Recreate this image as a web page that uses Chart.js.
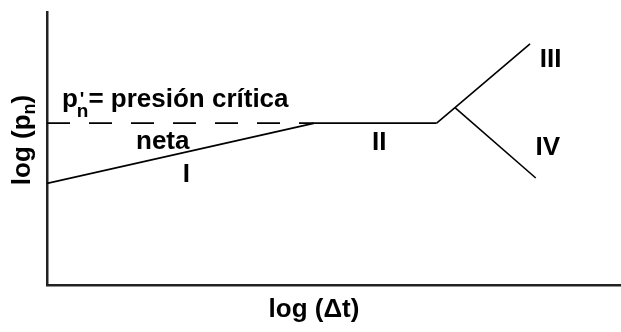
<!DOCTYPE html>
<html>
<head>
<meta charset="utf-8">
<script src="https://cdn.jsdelivr.net/npm/chart.js@4/dist/chart.umd.min.js"></script>
<style>
  html, body { margin: 0; padding: 0; background: #fff; }
  canvas { display: block; }
</style>
</head>
<body>
<canvas id="grafico" width="621" height="332"></canvas>
<script>
// tramos de la curva log(pn) vs log(Δt), en unidades logarítmicas arbitrarias
const tramoI = [[0, 3.72], [4.67, 5.93]];
const tramoII = [[4.67, 5.93], [6.8, 5.93]];
const tramoIII = [[6.8, 5.93], [7.12, 6.5], [8.43, 8.83]];
const tramoIV = [[7.12, 6.5], [8.53, 3.92]];
const presionCritica = [[0, 5.93], [4.67, 5.93]];

// rótulos de cada tramo (centro del texto en unidades de los ejes)
const rotulos = ['I', 'II', 'III', 'IV'];
const rotulosX = [2.43, 5.8, 8.79, 8.74];
const rotulosY = [4.05, 5.22, 8.24, 5.03];

const FUENTE = '"Liberation Sans", Arial, sans-serif';

function puntos(arr) {
    return arr.map(p => ({ x: p[0], y: p[1] }));
}

function serie(arr, dash) {
    return {
        data: puntos(arr),
        borderColor: '#000',
        borderWidth: 1.6,
        borderDash: dash || [],
        pointRadius: 0,
        tension: 0,
        fill: false
    };
}

// textos sobre el gráfico: rótulos, p'n, títulos de los ejes
const textos = {
    id: 'textos',
    afterDatasetsDraw(chart) {
        const ctx = chart.ctx;
        const sx = chart.scales.x, sy = chart.scales.y;
        ctx.save();
        ctx.fillStyle = '#000';

        // I, II, III, IV
        ctx.font = 'bold 26px ' + FUENTE;
        ctx.textAlign = 'center';
        ctx.textBaseline = 'middle';
        rotulos.forEach((t, i) => {
            ctx.fillText(t, sx.getPixelForValue(rotulosX[i]), sy.getPixelForValue(rotulosY[i]));
        });

        // p'n = presión crítica neta
        ctx.textAlign = 'left';
        ctx.textBaseline = 'alphabetic';
        let x = sx.getPixelForValue(0.26);
        const base = sy.getPixelForValue(6.52);
        ctx.font = 'bold 26px ' + FUENTE;
        ctx.fillText('p', x, base);
        x += ctx.measureText('p').width - 1;
        ctx.font = 'bold 19px ' + FUENTE;
        ctx.fillText('n', x, base + 10);
        ctx.fillText("'", x + 3, base - 2);
        x += ctx.measureText('n').width;
        ctx.font = 'bold 26px ' + FUENTE;
        ctx.fillText('= presión crítica', x, base);
        ctx.textAlign = 'center';
        ctx.fillText('neta', sx.getPixelForValue(2.02), sy.getPixelForValue(5.0));

        // título del eje x
        ctx.font = 'bold 26px ' + FUENTE;
        ctx.textAlign = 'center';
        ctx.fillText('log (Δt)', 314, chart.height - 15);

        // título del eje y, girado, con subíndice
        ctx.translate(30, 140);
        ctx.rotate(-Math.PI / 2);
        ctx.textAlign = 'left';
        ctx.font = 'bold 26px ' + FUENTE;
        const a = 'log (p', b = 'n', c = ')';
        const wa = ctx.measureText(a).width, wc = ctx.measureText(c).width;
        ctx.font = 'bold 18px ' + FUENTE;
        const wb = ctx.measureText(b).width;
        let px = -(wa + wb + wc) / 2;
        ctx.font = 'bold 26px ' + FUENTE;
        ctx.fillText(a, px, 0);
        px += wa;
        ctx.font = 'bold 18px ' + FUENTE;
        ctx.fillText(b, px, 5);
        px += wb;
        ctx.font = 'bold 26px ' + FUENTE;
        ctx.fillText(c, px, 0);
        ctx.restore();
    }
};

new Chart(document.getElementById('grafico'), {
    type: 'line',
    data: {
        datasets: [
            serie(tramoI),
            serie(tramoII),
            serie(tramoIII),
            serie(tramoIV),
            serie(presionCritica, [23, 19])
        ]
    },
    options: {
        responsive: false,
        animation: false,
        layout: { padding: { left: 47, top: 12, right: 1, bottom: 47 } },
        plugins: { legend: { display: false }, tooltip: { enabled: false } },
        scales: {
            x: {
                type: 'linear',
                min: 0,
                max: 10,
                ticks: { display: false },
                grid: { display: false, drawTicks: false },
                border: { display: true, color: '#222', width: 2.5 }
            },
            y: {
                type: 'linear',
                min: 0,
                max: 10,
                ticks: { display: false },
                grid: { display: false, drawTicks: false },
                border: { display: true, color: '#222', width: 2.5 }
            }
        }
    },
    plugins: [textos]
});
</script>
</body>
</html>
